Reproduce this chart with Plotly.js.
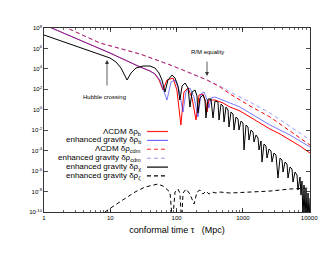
<!DOCTYPE html>
<html><head><meta charset="utf-8">
<script src="https://cdn.plot.ly/plotly-3.0.1.min.js"></script>
<style>html,body{margin:0;padding:0;background:#fff}#chart{width:330px;height:255px}</style>
</head><body><div id="chart"></div>
<script>
// conformal time tau (Mpc) and density contrasts
const tauBaryonLCDM = [1, 3.49, 9.9, 28.1, 39.7, 47.2, 54.3, 62.4, 71.6, 88.3, 101, 116, 129, 149, 171, 196, 218, 250, 277, 288, 308, 379, 501, 638, 904, 1280, 1811, 2562, 3630, 5133, 7262, 10280];
const deltaBaryonLCDM = [2.1e8, 6.7e6, 3.58e5, 1.53e4, 6.2e3, 3.16e3, 817, 86, 817, 1.28e3, 86, 0.0323, 55, 135, 14.2, 0.0995, 28, 35, 4.6, 0.6, 9.0, 9.0, 4.6, 1.86, 0.76, 0.196, 0.0507, 0.0131, 0.00425, 0.0011, 2.84e-4, 5.9e-5];

const tauBaryonEG = [1, 3.49, 9.9, 28.1, 39.7, 47.2, 56.2, 71.6, 82.4, 94.6, 109, 125, 139, 159, 183, 210, 233, 259, 288, 308, 330, 379, 501, 638, 904, 1280, 1811, 2562, 3630, 5133, 7262, 10280];
const deltaBaryonEG = [2.1e8, 6.7e6, 3.58e5, 1.53e4, 6.2e3, 3.16e3, 817, 9.0, 520, 817, 86, 0.6, 68, 135, 17.7, 0.196, 35, 55, 9.0, 1.49, 14.2, 17.7, 9.0, 4.6, 1.86, 0.48, 0.125, 0.0323, 0.0105, 0.00339, 8.8e-4, 2.27e-4];

const tauCdm = [1, 2.22, 6.99, 28.1, 88.3, 288, 452, 638, 904, 1280, 2562, 5133, 7262, 10280];
const deltaCdmLCDM = [1.07e9, 1e8, 3.4e6, 2.86e5, 1.91e4, 817, 169, 35, 9.0, 2.33, 0.196, 0.00835, 0.00172, 3.56e-4];
const deltaCdmEG = [1.07e9, 1e8, 3.4e6, 2.86e5, 1.91e4, 817, 211, 55, 17.7, 5.7, 0.48, 0.0258, 0.00532, 0.0011];

const tauChi = [1, 3.15, 9.9, 12.2, 14.5, 17.9, 20.5, 24.4, 31.1, 39.7,
  47.2, 54.3, 60.2, 66.8, 74.1, 85.3, 94.6, 105, 112, 121,
  134, 149, 159, 171, 190, 203, 210, 225, 250, 268,
  277, 298, 330, 354, 379, 421, 436, 468, 501, 519,
  556, 596, 617, 661, 709, 734, 787, 844, 873, 936,
  1003, 1039, 1114, 1194, 1236, 1325, 1420, 1470, 1577, 1690,
  1750, 1876, 1942, 2081, 2231, 2309, 2475, 2653, 2746, 2943,
  3155, 3382, 3630, 3891, 4028, 4317, 4627, 4790, 5133, 5502,
  5696, 6105, 6544, 6775, 7262, 7518, 7783, 8057, 8350, 8646,
  8951, 9268, 9593, 9931, 10280];
const deltaChi = [2.07e7, 1.55e6, 1.16e5, 4.71e4, 1.22e4, 817, 3.95e3, 1.22e4, 1.91e4, 1.91e4,
  1.22e4, 3.95e3, 817, 55, 817, 2.52e3, 1.28e3, 211, 9.0, 211,
  415, 135, 1.86, 55, 86, 22, 0.48, 14.2, 28, 9.0,
  0.156, 11.3, 11.3, 0.156, 7.2, 5.7, 0.0995, 3.66, 2.33, 0.063,
  1.86, 0.95, 0.0206, 0.6, 0.385, 0.0105, 0.196, 0.125, 0.0105, 0.079,
  0.0507, 1.16e-4, 0.0323, 0.0206, 0.0011, 0.0105, 0.00667, 7.0e-4, 0.00339, 0.00172,
  1.16e-4, 8.8e-4, 7.7e-6, 4.47e-4, 2.84e-4, 1.9e-5, 1.45e-4, 9.2e-5, 7.7e-6, 5.9e-5,
  3.74e-5, 2.1e-7, 1.9e-5, 1.21e-5, 8.1e-7, 7.7e-6, 4.93e-6, 2.1e-7, 2.51e-6, 1.6e-6,
  8.5e-8, 8.1e-7, 4.13e-7, 1.41e-8, 2.64e-7, 4.56e-9, 1.07e-7, 1e-11, 4.35e-8, 1e-11,
  1.77e-8, 1e-11, 7.2e-9, 1e-11, 2.3e-9];

const tauZeta = [6.99, 8.3, 11.8, 16.7, 23.6, 33.4, 42.6, 52, 62.4, 71.6, 79.4, 86.7, 94.6, 105, 112, 119, 125, 139, 159, 183, 203, 225, 250, 277, 308, 342, 393, 452, 638, 1280, 2562, 5133, 8646, 10280];
const deltaZeta = [3.2e-11, 1e-10, 4.8e-10, 2.3e-9, 8.97e-9, 2.77e-8, 4.35e-8, 5.4e-8, 3.47e-8, 1.41e-8, 8.97e-9, 1e-11, 8.97e-9, 1.77e-8, 7.2e-9, 1e-11, 7.2e-9, 1.77e-8, 5.7e-9, 6.0e-10, 8.97e-9, 1.41e-8, 5.7e-9, 1.12e-8, 5.7e-9, 8.97e-9, 7.2e-9, 8.97e-9, 7.2e-9, 8.97e-9, 1.12e-8, 1.77e-8, 2.21e-8, 2.21e-8];

const xTickVals = [1, 10, 100, 1000, 10000];
const xTickText = ['1', '10', '100', '1000', '10000'];
const yTickVals = [1e-10, 1e-8, 1e-6, 1e-4, 1e-2, 1, 1e2, 1e4, 1e6, 1e8];
const yTickText = ['10<sup>-10</sup>', '10<sup>-8</sup>', '10<sup>-6</sup>', '10<sup>-4</sup>', '10<sup>-2</sup>', '10<sup>0</sup>', '10<sup>2</sup>', '10<sup>4</sup>', '10<sup>6</sup>', '10<sup>8</sup>'];

const legendLabels = ['ΛCDM δρ<sub>b</sub>', 'enhanced gravity δρ<sub>b</sub>', 'ΛCDM δρ<sub>cdm</sub>', 'enhanced gravity δρ<sub>cdm</sub>', 'enhanced gravity δρ<sub>χ</sub>', 'enhanced gravity δρ<sub>ζ</sub>'];

const FONT = 'Liberation Sans, Arial, sans-serif';
const styles = [
  {color: '#ff0000', dash: 'solid'},
  {color: 'rgba(51,51,255,0.65)', dash: 'solid'},
  {color: '#ff0000', dash: '4px,3px'},
  {color: 'rgba(80,80,255,0.55)', dash: '4px,3px'},
  {color: '#000000', dash: 'solid'},
  {color: '#000000', dash: '4px,3px'}
];
const legendColors = ['#ff2020', '#6a6aff', '#ff2020', '#9a9aff', '#000000', '#000000'];
const series = [
  [tauBaryonLCDM, deltaBaryonLCDM],
  [tauBaryonEG, deltaBaryonEG],
  [tauCdm, deltaCdmLCDM],
  [tauCdm, deltaCdmEG],
  [tauChi, deltaChi],
  [tauZeta, deltaZeta]
];
const traces = series.map((s, i) => ({
  x: s[0], y: s[1], type: 'scatter', mode: 'lines',
  line: {color: styles[i].color, dash: styles[i].dash, width: 1},
  showlegend: false, hoverinfo: 'skip'
}));

const rowY = [0.4375, 0.389, 0.341, 0.292, 0.244, 0.196];
const annotations = legendLabels.map((t, i) => ({
  xref: 'paper', yref: 'paper', x: 0.372, y: rowY[i], xanchor: 'right', yanchor: 'middle',
  text: t, showarrow: false, font: {family: FONT, size: 8, color: '#000'}
}));
const shapes = legendLabels.map((t, i) => ({
  type: 'line', xref: 'paper', yref: 'paper', x0: 0.387, x1: 0.466, y0: rowY[i], y1: rowY[i],
  line: {color: legendColors[i], dash: styles[i].dash, width: 1.2}
}));
annotations.push(
  {x: 0.950, y: 4.87, xref: 'x', yref: 'y', text: '', showarrow: true, ax: 0, ay: 27,
   arrowhead: 2, arrowsize: 1, arrowwidth: 0.8, arrowcolor: '#333'},
  {x: 0.905, y: 1.25, xref: 'x', yref: 'y', text: 'Hubble crossing', showarrow: false,
   font: {family: FONT, size: 6, color: '#000'}},
  {x: 2.459, y: 3.30, xref: 'x', yref: 'y', text: '', showarrow: true, ax: 0, ay: -16,
   arrowhead: 2, arrowsize: 1, arrowwidth: 0.8, arrowcolor: '#333'},
  {x: 2.459, y: 5.65, xref: 'x', yref: 'y', text: 'R/M equality', showarrow: false,
   font: {family: FONT, size: 6, color: '#000'}}
);

const layout = {
  width: 330, height: 255,
  margin: {l: 44, r: 20, t: 28, b: 43},
  paper_bgcolor: '#fff', plot_bgcolor: '#fff',
  font: {family: FONT, size: 6, color: '#000'},
  xaxis: {
    type: 'log', range: [0, 4.012], tickvals: xTickVals, ticktext: xTickText,
    ticks: 'inside', ticklen: 4, tickwidth: 0.7, tickcolor: '#000',
    minor: {ticks: 'inside', ticklen: 2, tickwidth: 0.6, tickcolor: '#000', dtick: 'D1', showgrid: false},
    showline: true, linecolor: '#000', linewidth: 0.8, mirror: 'allticks',
    showgrid: false, zeroline: false, tickfont: {family: FONT, size: 6},
    title: {text: 'conformal time τ   (Mpc)', font: {family: FONT, size: 9}, standoff: 6}
  },
  yaxis: {
    type: 'log', range: [-10, 8], tickvals: yTickVals, ticktext: yTickText,
    ticks: 'inside', ticklen: 4, tickwidth: 0.7, tickcolor: '#000',
    showline: true, linecolor: '#000', linewidth: 0.8, mirror: 'allticks',
    showgrid: false, zeroline: false, tickfont: {family: FONT, size: 6}
  },
  annotations: annotations,
  shapes: shapes
};
Plotly.newPlot('chart', traces, layout, {staticPlot: true, displayModeBar: false});
</script>
</body></html>
